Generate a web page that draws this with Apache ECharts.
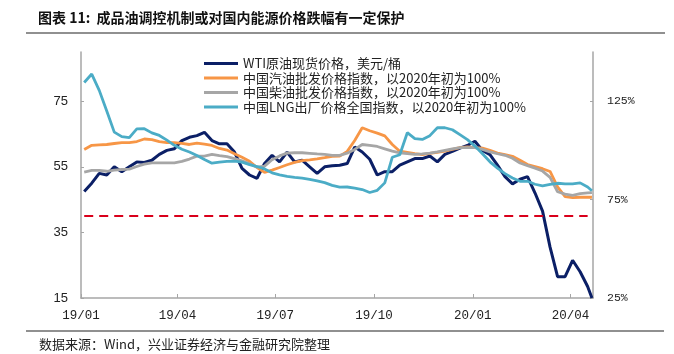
<!DOCTYPE html>
<html>
<head>
<meta charset="utf-8">
<title>成品油调控机制或对国内能源价格跌幅有一定保护</title>
<script src="https://cdn.jsdelivr.net/npm/echarts@6/dist/echarts.min.js"></script>
<style>
    html, body { margin: 0; padding: 0; background: #fff; }
    #main { width: 674px; height: 354px; }
</style>
</head>
<body>
<div id="main"></div>
<script>
'use strict';
/**
 * 图表11：WTI 原油与国内成品油、LNG 价格指数走势
 */
// 周度日期（每周五，最后一个点为 2020-04-21）
var dates = [
    '2019-01-04', '2019-01-11', '2019-01-18', '2019-01-25',
    '2019-02-01', '2019-02-08', '2019-02-15', '2019-02-22',
    '2019-03-01', '2019-03-08', '2019-03-15', '2019-03-22', '2019-03-29',
    '2019-04-05', '2019-04-12', '2019-04-19', '2019-04-26',
    '2019-05-03', '2019-05-10', '2019-05-17', '2019-05-24', '2019-05-31',
    '2019-06-07', '2019-06-14', '2019-06-21', '2019-06-28',
    '2019-07-05', '2019-07-12', '2019-07-19', '2019-07-26',
    '2019-08-02', '2019-08-09', '2019-08-16', '2019-08-23', '2019-08-30',
    '2019-09-06', '2019-09-13', '2019-09-20', '2019-09-27',
    '2019-10-04', '2019-10-11', '2019-10-18', '2019-10-25',
    '2019-11-01', '2019-11-08', '2019-11-15', '2019-11-22', '2019-11-29',
    '2019-12-06', '2019-12-13', '2019-12-20', '2019-12-27',
    '2020-01-03', '2020-01-10', '2020-01-17', '2020-01-24', '2020-01-31',
    '2020-02-07', '2020-02-14', '2020-02-21', '2020-02-28',
    '2020-03-06', '2020-03-13', '2020-03-20', '2020-03-27',
    '2020-04-03', '2020-04-10', '2020-04-17', '2020-04-21'
];

// WTI 原油现货价格，美元/桶（左轴）
var wti = [
    47.5, 50, 53, 52.5,
    55, 53.5, 55, 56.5,
    56.3, 57, 58.8, 60, 60.5,
    63, 64, 64.5, 65.5,
    63, 62, 62, 59.5, 54.5,
    52.5, 51.5, 56, 58.5,
    56.5, 59.5, 56.5, 57,
    55, 53, 55, 55.3, 55.5,
    56, 61, 59.5, 57.3,
    52.5, 53.5, 53.5, 55.5,
    56.5, 57.5, 57.5, 58.3, 56.5,
    58.8, 59.7, 60.7, 61.5,
    62.8, 60, 58.7, 55.5, 52,
    49.8, 51.2, 52, 47,
    41.5, 30.5, 21.5, 21.5,
    26.5, 23, 18.5, 15
];

// 中国汽油批发价格指数，以2020年初为100%（右轴）
var gasoline = [
    100.5, 102.6, 102.8, 103,
    103.5, 103.9, 103.9, 104.5,
    105.8, 105.5, 104.5, 104, 103.9,
    103.6, 103, 103.7, 103.2,
    102.5, 101, 100.2, 98.3, 96.5,
    94.5, 91.3, 88.8, 90,
    91.3, 92.7, 93.9, 94.8,
    95.2, 95.7, 96.3, 97, 97.1,
    99.5, 105, 111.5, 110,
    108.8, 107.4, 103, 99.6,
    99, 98.4, 97.9, 98.5, 99,
    99.6, 100.5, 101.4, 101.8,
    101.4, 101.2, 100, 98.6, 97.8,
    97, 95, 92.8, 91.8,
    90.7, 89.3, 81.5, 76.5,
    76, 76.2, 76.3, 76.2
];

// 中国柴油批发价格指数，以2020年初为100%（右轴）
var diesel = [
    89, 89.8, 89.8, 89.4,
    90, 90.3, 90.5, 91.8,
    93, 93.7, 93.7, 93.7, 93.7,
    94.4, 95.6, 97.1, 97.1,
    98, 97.3, 96.8, 95.8, 94.7,
    93.2, 91.5, 92, 95.3,
    97.2, 98.6, 98.8, 98.8,
    98.5, 98.2, 98, 97.5, 97.5,
    98.6, 100.5, 103, 102.6,
    102, 100.8, 99.6, 98.8,
    98.4, 98, 98.2, 98.6, 99.2,
    100, 100.8, 101.4, 101.4,
    101.4, 100.5, 99.2, 98.3, 97.5,
    96, 93.6, 92.3, 91,
    89.5, 86.3, 79, 77.8,
    77.2, 78, 78.4, 78.5
];

// 中国LNG出厂价格全国指数，以2020年初为100%（右轴）
var lng = [
    134.5, 138.8, 130.5, 120,
    109.3, 107, 106.5, 110.9,
    111, 108.9, 107.6, 105.2, 102.6,
    100.6, 99.2, 97.4, 95.4,
    93.5, 94, 94.4, 94.5, 94,
    92.8, 91.8, 90.6, 88.6,
    87.6, 86.8, 86.3, 85.9,
    85.3, 84.5, 83.6, 82.2, 81.3,
    81.4, 80.8, 80.1, 78.6,
    79.7, 83.5, 96.5, 97.8,
    109, 106, 105.6, 107.5, 111.5,
    111.5, 110.5, 108, 105.5,
    102.2, 98.3, 94.2, 91, 88.2,
    86, 84.3, 84.3, 82.8,
    82, 82.7, 83.3, 83,
    83, 83.5, 81.4, 79.5
];

// 红色虚线：WTI 40 美元/桶
var thresholdDates = ['2019-01-04', '2020-04-17'];
var thresholdValues = [40, 40];

// 坐标轴刻度
var xRange = ['2019-01-01', '2020-04-22'];
var quarterTicks = ['2019-01-01', '2019-04-01', '2019-07-01', '2019-10-01', '2020-01-01', '2020-04-01'];
var leftTicks = [15, 35, 55, 75];
var rightTicks = [25, 75, 125];

var names = [
    'WTI原油现货价格，美元/桶',
    '中国汽油批发价格指数，以2020年初为100%',
    '中国柴油批发价格指数，以2020年初为100%',
    '中国LNG出厂价格全国指数，以2020年初为100%'
];

// 日期字符串转时间戳
function toTime(s) {
    return echarts.time.parse(s).getTime();
}

// 日期与数值拼成 [x, y]
function pairs(xs, ys) {
    var arr = [];
    for (var i = 0; i < xs.length; i++) {
        arr.push([toTime(xs[i]), ys[i]]);
    }
    return arr;
}

function pad(n) {
    return n < 10 ? '0' + n : '' + n;
}

var quarterTimes = quarterTicks.map(toTime);

var chart = echarts.init(document.getElementById('main'), null, { renderer: 'canvas' });

var axisColor = '#a6a6a6';
var cjk = 'Noto Sans CJK SC';

var option = {
    animation: false,
    backgroundColor: '#fff',
    title: [{
        text: '图表 11:  成品油调控机制或对国内能源价格跌幅有一定保护',
        left: 33,
        top: 6,
        textStyle: { fontFamily: cjk, fontSize: 14, fontWeight: 'bold', color: '#111' }
    }, {
        text: '数据来源：Wind，兴业证券经济与金融研究院整理',
        left: 34,
        top: 333,
        textStyle: { fontFamily: cjk, fontSize: 13, fontWeight: 'normal', color: '#222' }
    }],
    graphic: [{
        type: 'line',
        shape: { x1: 26, y1: 33, x2: 665, y2: 33 },
        style: { stroke: '#222', lineWidth: 1.2 }
    }, {
        type: 'line',
        shape: { x1: 26, y1: 331, x2: 664, y2: 331 },
        style: { stroke: '#222', lineWidth: 1.2 }
    }],
    legend: {
        orient: 'vertical',
        left: 199,
        top: 52,
        icon: 'rect',
        itemWidth: 34,
        itemHeight: 3,
        itemGap: 1.5,
        data: names,
        textStyle: { fontFamily: cjk, fontSize: 13, color: '#222' }
    },
    grid: {
        left: 81,
        right: 81,
        top: 52,
        bottom: 56
    },
    xAxis: {
        type: 'value',
        min: toTime(xRange[0]),
        max: toTime(xRange[1]),
        splitLine: { show: false },
        axisLine: { lineStyle: { color: axisColor, width: 1.5 } },
        axisTick: {
            inside: true,
            length: 4,
            customValues: quarterTimes,
            lineStyle: { color: axisColor }
        },
        axisLabel: {
            margin: 11,
            customValues: quarterTimes,
            fontFamily: 'Liberation Mono',
            fontSize: 12.5,
            color: '#222',
            formatter: function (v) {
                var d = new Date(v);
                return String(d.getFullYear()).slice(2) + '/' + pad(d.getMonth() + 1);
            }
        }
    },
    yAxis: [{
        type: 'value',
        min: leftTicks[0],
        max: 90,
        interval: leftTicks[1] - leftTicks[0],
        splitLine: { show: false },
        axisLine: { show: true, lineStyle: { color: axisColor, width: 1.5 } },
        axisTick: { show: true, inside: true, length: 3, lineStyle: { color: axisColor } },
        axisLabel: {
            margin: 13,
            showMaxLabel: false,
            fontFamily: 'Liberation Sans',
            fontSize: 13,
            color: '#222',
            formatter: function (v) {
                return leftTicks.indexOf(v) > -1 ? v : '';
            }
        }
    }, {
        type: 'value',
        position: 'right',
        min: rightTicks[0],
        max: 150,
        interval: rightTicks[1] - rightTicks[0],
        splitLine: { show: false },
        axisLine: { show: true, lineStyle: { color: axisColor, width: 1.5 } },
        axisTick: { show: true, inside: true, length: 3, lineStyle: { color: axisColor } },
        axisLabel: {
            margin: 14,
            showMaxLabel: false,
            fontFamily: 'Liberation Mono',
            fontSize: 11.5,
            color: '#222',
            formatter: function (v) {
                return rightTicks.indexOf(v) > -1 ? v + '%' : '';
            }
        }
    }],
    series: [{
        name: names[0],
        type: 'line',
        yAxisIndex: 0,
        symbol: 'none',
        lineStyle: { color: '#0b1f66', width: 3 },
        itemStyle: { color: '#0b1f66' },
        data: pairs(dates, wti)
    }, {
        name: names[1],
        type: 'line',
        yAxisIndex: 1,
        symbol: 'none',
        lineStyle: { color: '#f79646', width: 2.8 },
        itemStyle: { color: '#f79646' },
        data: pairs(dates, gasoline)
    }, {
        name: names[2],
        type: 'line',
        yAxisIndex: 1,
        symbol: 'none',
        lineStyle: { color: '#a6a6a6', width: 2.8 },
        itemStyle: { color: '#a6a6a6' },
        data: pairs(dates, diesel)
    }, {
        name: names[3],
        type: 'line',
        yAxisIndex: 1,
        symbol: 'none',
        lineStyle: { color: '#4bacc6', width: 2.8 },
        itemStyle: { color: '#4bacc6' },
        data: pairs(dates, lng)
    }, {
        name: 'WTI 40美元',
        type: 'line',
        yAxisIndex: 0,
        symbol: 'none',
        lineStyle: { color: '#d9001b', width: 2.2, type: [9, 6] },
        data: pairs(thresholdDates, thresholdValues)
    }]
};

chart.setOption(option);
</script>
</body>
</html>
